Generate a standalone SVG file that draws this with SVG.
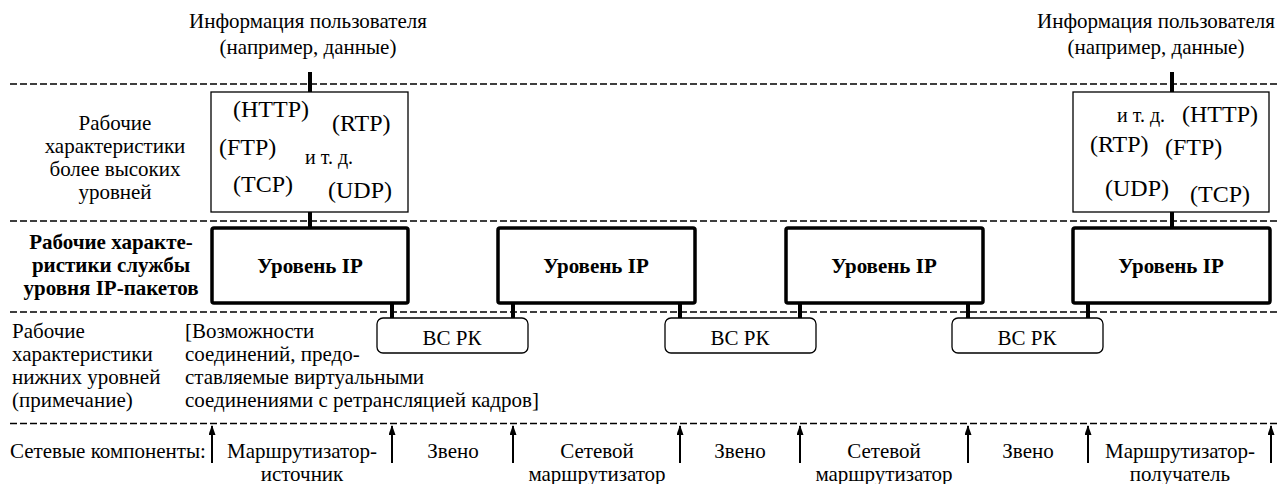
<svg xmlns="http://www.w3.org/2000/svg" width="1278" height="484" viewBox="0 0 1278 484">
<defs>
<marker id="ah" viewBox="0 0 10 7" refX="9" refY="3.5" markerWidth="10" markerHeight="7" markerUnits="userSpaceOnUse" orient="auto">
<path d="M0,0 L10,3.5 L0,7 Z" fill="#000"/>
</marker>
<style>
text{font-family:"Liberation Serif","Times New Roman","DejaVu Serif",serif;font-size:21px;fill:#000}
.c{text-anchor:middle}
.b{font-weight:bold}
.p{font-size:24px}
.s{font-size:20px}
.dash{stroke:#000;stroke-width:1.5;stroke-dasharray:7,3;fill:none}
.up{fill:#fff;stroke:#000;stroke-width:1.3}
.ip{fill:#fff;stroke:#000;stroke-width:3.5}
.fr{fill:#fff;stroke:#000;stroke-width:1.3}
.stub{stroke:#000;stroke-width:4}
.arr{stroke:#000;stroke-width:2}
</style>
</defs>
<rect width="1278" height="484" fill="#fff"/>

<g id="layers">
<line class="dash" x1="10" y1="84" x2="1278" y2="84"/>
<line class="dash" x1="10" y1="221" x2="1278" y2="221"/>
<line class="dash" x1="10" y1="312" x2="1278" y2="312"/>
<line class="dash" x1="10" y1="423.5" x2="1278" y2="423.5"/>
</g>

<g id="labels" font-family="Liberation Serif, serif">
<text class="c" x="308" y="28">Информация пользователя</text>
<text class="c" x="308" y="54">(например, данные)</text>
<text class="c" x="1156" y="28">Информация пользователя</text>
<text class="c" x="1156" y="54">(например, данные)</text>
<text class="c" x="115" y="130">Рабочие</text>
<text class="c" x="115" y="153">характеристики</text>
<text class="c" x="115" y="176">более высоких</text>
<text class="c" x="115" y="199">уровней</text>
<text class="c b" x="111" y="249">Рабочие характе-</text>
<text class="c b" x="111" y="272">ристики службы</text>
<text class="c b" x="111" y="295">уровня IP-пакетов</text>
<text x="12" y="338">Рабочие</text>
<text x="12" y="361">характеристики</text>
<text x="12" y="384">нижних уровней</text>
<text x="12" y="407">(примечание)</text>
<text x="185" y="338">[Возможности</text>
<text x="185" y="361">соединений, предо-</text>
<text x="185" y="384">ставляемые виртуальными</text>
<text x="185" y="407">соединениями с ретрансляцией кадров]</text>
<text x="10" y="458">Сетевые компоненты:</text>
<text class="c" x="302" y="458">Маршрутизатор-</text>
<text class="c" x="302" y="481">источник</text>
<text class="c" x="453" y="458">Звено</text>
<text class="c" x="597" y="458">Сетевой</text>
<text class="c" x="597" y="481">маршрутизатор</text>
<text class="c" x="740" y="458">Звено</text>
<text class="c" x="884" y="458">Сетевой</text>
<text class="c" x="884" y="481">маршрутизатор</text>
<text class="c" x="1028" y="458">Звено</text>
<text class="c" x="1180" y="458">Маршрутизатор-</text>
<text class="c" x="1180" y="481">получатель</text>
</g>

<g id="connectors">
<line class="stub" x1="310" y1="72" x2="310" y2="92"/>
<line class="stub" x1="310" y1="212" x2="310" y2="228"/>
<line class="stub" x1="1172" y1="72" x2="1172" y2="92"/>
<line class="stub" x1="1172" y1="212" x2="1172" y2="228"/>
<line class="stub" x1="392" y1="303" x2="392" y2="318"/>
<line class="stub" x1="513" y1="303" x2="513" y2="318"/>
<line class="stub" x1="680" y1="303" x2="680" y2="318"/>
<line class="stub" x1="800" y1="303" x2="800" y2="318"/>
<line class="stub" x1="968" y1="303" x2="968" y2="318"/>
<line class="stub" x1="1088" y1="303" x2="1088" y2="318"/>
<line class="arr" x1="212" y1="463" x2="212" y2="426" marker-end="url(#ah)"/>
<line class="arr" x1="392" y1="463" x2="392" y2="426" marker-end="url(#ah)"/>
<line class="arr" x1="513" y1="463" x2="513" y2="426" marker-end="url(#ah)"/>
<line class="arr" x1="680" y1="463" x2="680" y2="426" marker-end="url(#ah)"/>
<line class="arr" x1="800" y1="463" x2="800" y2="426" marker-end="url(#ah)"/>
<line class="arr" x1="968" y1="463" x2="968" y2="426" marker-end="url(#ah)"/>
<line class="arr" x1="1088" y1="463" x2="1088" y2="426" marker-end="url(#ah)"/>
<line class="arr" x1="1271" y1="463" x2="1271" y2="426" marker-end="url(#ah)"/>
</g>

<g id="upper-left" font-family="Liberation Serif, serif">
<rect class="up" x="211" y="92" width="197" height="120"/>
<text class="p" x="233" y="117">(HTTP)</text>
<text class="p" x="332" y="131">(RTP)</text>
<text class="p" x="219" y="155">(FTP)</text>
<text class="s" x="305" y="164">и т. д.</text>
<text class="p" x="233" y="192">(TCP)</text>
<text class="p" x="328" y="198">(UDP)</text>
</g>

<g id="upper-right" font-family="Liberation Serif, serif">
<rect class="up" x="1073" y="92" width="196" height="120"/>
<text class="s" x="1117" y="122">и т. д.</text>
<text class="p" x="1182" y="122">(HTTP)</text>
<text class="p" x="1090" y="152">(RTP)</text>
<text class="p" x="1165" y="155">(FTP)</text>
<text class="p" x="1105" y="196">(UDP)</text>
<text class="p" x="1190" y="202">(TCP)</text>
</g>

<g id="ip1"><rect class="ip" x="212" y="228" width="196" height="75" rx="2"/><text class="c b" x="310" y="273">Уровень IP</text></g>
<g id="ip2"><rect class="ip" x="498" y="228" width="197" height="75" rx="2"/><text class="c b" x="596" y="273">Уровень IP</text></g>
<g id="ip3"><rect class="ip" x="786" y="228" width="197" height="75" rx="2"/><text class="c b" x="884" y="273">Уровень IP</text></g>
<g id="ip4"><rect class="ip" x="1073" y="228" width="197" height="75" rx="2"/><text class="c b" x="1171" y="273">Уровень IP</text></g>

<g id="fr1"><rect class="fr" x="377" y="318" width="151" height="35" rx="6"/><text class="c" x="452" y="345">ВС РК</text></g>
<g id="fr2"><rect class="fr" x="665" y="318" width="151" height="35" rx="6"/><text class="c" x="740" y="345">ВС РК</text></g>
<g id="fr3"><rect class="fr" x="952" y="318" width="151" height="35" rx="6"/><text class="c" x="1027" y="345">ВС РК</text></g>
</svg>
